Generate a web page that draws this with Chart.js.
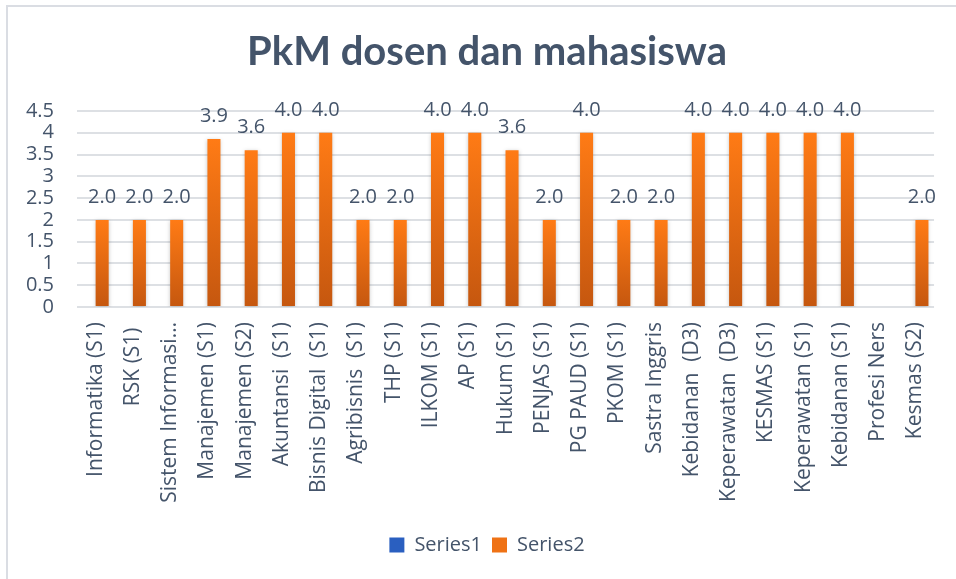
<!DOCTYPE html>
<html>
<head>
<meta charset="utf-8">
<script src="https://cdn.jsdelivr.net/npm/chart.js@4.4.1/dist/chart.umd.min.js"></script>
<style>
  html, body { margin: 0; padding: 0; background: #fff; }
  canvas { display: block; }
</style>
</head>
<body>
<canvas id="myChart" width="956" height="579"></canvas>
<script>
const categories = [
  "Informatika (S1)", "RSK (S1) ", "Sistem Informasi…", "Manajemen (S1)", "Manajemen (S2)",
  "Akuntansi  (S1)", "Bisnis Digital  (S1)", "Agribisnis  (S1)", "THP (S1)", "ILKOM (S1)",
  "AP (S1)", "Hukum (S1)", "PENJAS (S1)", "PG PAUD (S1)", "PKOM (S1)", "Sastra Inggris",
  "Kebidanan  (D3)", "Keperawatan  (D3)", "KESMAS (S1)", "Keperawatan (S1)", "Kebidanan (S1)",
  "Profesi Ners", "Kesmas (S2)"
];
const series1 = [null, null, null, null, null, null, null, null, null, null, null, null,
  null, null, null, null, null, null, null, null, null, null, null];
const series2 = [2, 2, 2, 3.86, 3.6, 4, 4, 2, 2, 4, 4, 3.6, 2, 4, 2, 2, 4, 4, 4, 4, 4, null, 2];
const yTicks = [0, 0.5, 1, 1.5, 2, 2.5, 3, 3.5, 4, 4.5];

const textColor = "#44546a";
const gridColor = "#dde0e4";

// gradient per bar, bright at the top, darker at the base
function barGradient(ctx, top, bottom, light, dark) {
  const g = ctx.createLinearGradient(0, top, 0, bottom);
  g.addColorStop(0, light);
  g.addColorStop(1, dark);
  return g;
}
function scriptedFill(light, dark) {
  return (c) => {
    const chart = c.chart;
    const y = chart.scales && chart.scales.y;
    if (c.type !== "data" || !y || c.raw == null) return light;
    return barGradient(chart.ctx, y.getPixelForValue(c.raw), y.getPixelForValue(0), light, dark);
  };
}

const frame = {
  id: "frame",
  beforeDraw(chart) {
    const ctx = chart.ctx;
    ctx.save();
    ctx.fillStyle = "#fff";
    ctx.fillRect(0, 0, chart.width, chart.height);
    ctx.strokeStyle = "#dadde3";
    ctx.lineWidth = 2;
    ctx.strokeRect(7, 6, 2000, 2000);
    ctx.restore();
  }
};

const barShadow = {
  id: "barShadow",
  beforeDatasetDraw(chart) {
    const ctx = chart.ctx;
    ctx.save();
    ctx.shadowColor = "rgba(0,0,0,0.22)";
    ctx.shadowBlur = 4;
    ctx.shadowOffsetY = 1;
  },
  afterDatasetDraw(chart) {
    chart.ctx.restore();
  }
};

const valueLabels = {
  id: "valueLabels",
  afterDatasetsDraw(chart) {
    const ctx = chart.ctx;
    const meta = chart.getDatasetMeta(1);
    ctx.save();
    ctx.font = "20px 'Open Sans'";
    ctx.fillStyle = textColor;
    ctx.textAlign = "center";
    ctx.textBaseline = "alphabetic";
    meta.data.forEach((bar, i) => {
      const v = series2[i];
      if (v == null) return;
      ctx.fillText(v.toFixed(1), bar.x, bar.y - 17);
    });
    ctx.restore();
  }
};

const ctx = document.getElementById("myChart").getContext("2d");
const chart = new Chart(ctx, {
  type: "bar",
  data: {
    labels: categories,
    datasets: [
      {
        label: "Series1",
        data: series1,
        backgroundColor: scriptedFill("#2e6bd0", "#1f4ea0"),
        categoryPercentage: 0.7,
        barPercentage: 1
      },
      {
        label: "Series2",
        data: series2,
        backgroundColor: scriptedFill("#ff7b15", "#c5570f"),
        categoryPercentage: 0.7,
        barPercentage: 1
      }
    ]
  },
  options: {
    responsive: false,
    animation: false,
    devicePixelRatio: 1,
    layout: { padding: { left: 18, right: 0, top: 0, bottom: 14 } },
    plugins: {
      title: {
        display: true,
        text: "PkM dosen dan mahasiswa",
        color: textColor,
        font: { family: "Lato", size: 40, weight: "bold", lineHeight: 1.2 },
        padding: { top: 28, bottom: 35 }
      },
      legend: {
        position: "bottom",
        labels: {
          color: textColor,
          font: { family: "'Open Sans'", size: 20 },
          boxWidth: 15,
          boxHeight: 15,
          padding: 10,
          generateLabels(chart) {
            const fills = ["#2a5fc0", "#ef7215"];
            return chart.data.datasets.map((ds, i) => ({
              text: ds.label,
              fillStyle: fills[i],
              strokeStyle: fills[i],
              lineWidth: 0,
              datasetIndex: i,
              fontColor: textColor
            }));
          }
        }
      },
      tooltip: { enabled: false }
    },
    scales: {
      x: {
        grid: { display: false, drawTicks: false },
        border: { display: false },
        ticks: {
          color: textColor,
          font: { family: "'Open Sans'", size: 21 },
          autoSkip: false,
          minRotation: 90,
          maxRotation: 90,
          padding: 15
        },
        afterFit(scale) { scale.height = 218; }
      },
      y: {
        min: yTicks[0],
        max: yTicks[yTicks.length - 1],
        grid: { color: gridColor, lineWidth: 2, drawTicks: false },
        border: { display: false },
        afterBuildTicks(scale) {
          scale.ticks = yTicks.map((v) => ({ value: v }));
        },
        ticks: {
          autoSkip: false,
          color: textColor,
          font: { family: "'Open Sans'", size: 20, lineHeight: 1 },
          padding: 23,
          callback: (v) => String(v)
        },
        afterFit(scale) { scale.width = 59; }
      },
      // empty strip on the right so the plot ends where the reference does
      y2: {
        type: "linear",
        position: "right",
        grid: { display: false, drawTicks: false },
        border: { display: false },
        ticks: { display: false },
        afterFit(scale) { scale.width = 18; }
      }
    }
  },
  plugins: [frame, barShadow, valueLabels]
});
</script>
</body>
</html>
